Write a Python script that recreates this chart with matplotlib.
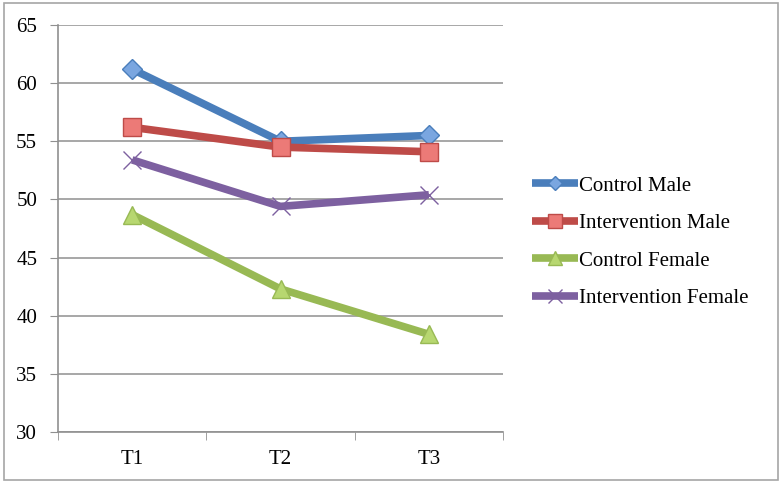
import matplotlib.pyplot as plt
import numpy as np
from matplotlib.patches import Rectangle

# data
times = ['T1', 'T2', 'T3']
control_male = [61.2, 55.0, 55.5]
intervention_male = [56.2, 54.5, 54.1]
control_female = [48.7, 42.3, 38.4]
intervention_female = [53.4, 49.4, 50.4]

plt.rcParams['font.family'] = ['Liberation Serif', 'DejaVu Serif']

fig = plt.figure(figsize=(7.81, 4.90), dpi=100)
ax = fig.add_axes([58 / 781, 1 - 432 / 490, 445 / 781, 407 / 490])

# outer frame of the chart
fig.patches.append(Rectangle((4 / 781, 1 - 480 / 490), 774 / 781, 477 / 490,
                             transform=fig.transFigure, fill=False,
                             edgecolor='#a6a6a6', linewidth=1.2))

x = np.arange(len(times))
series = [
    ('Control Male', control_male, '#4a7ebb', 'D', '#7aa6e0', '#4a7ebb', 10),
    ('Intervention Male', intervention_male, '#be4b48', 's', '#ec7a77', '#be4b48', 13),
    ('Control Female', control_female, '#98b954', '^', '#b7d770', '#98b954', 13),
    ('Intervention Female', intervention_female, '#7d60a0', 'x', '#7d60a0', '#7d60a0', 13),
]
for name, vals, col, mk, mfc, mec, ms in series:
    ax.plot(x, vals, color=col, linewidth=5.5, marker=mk, markersize=ms,
            markerfacecolor=mfc, markeredgecolor=mec, markeredgewidth=1.0,
            label=name, zorder=3, solid_capstyle='butt')

ax.set_xlim(-0.5, 2.5)
ax.set_ylim(30, 65)
ax.set_yticks(np.arange(30, 66, 5))
ax.set_xticks(x)
ax.set_xticklabels(times)
ax.set_xticks([-0.5, 0.5, 1.5, 2.5], minor=True)
ax.tick_params(axis='x', which='major', length=0, pad=13, labelsize=15)
ax.tick_params(axis='x', which='minor', length=6, color='#909090', direction='out')
ax.tick_params(axis='y', length=6, color='#909090', labelsize=15, pad=9)
ax.grid(axis='y', color='#a0a0a0', linewidth=1.3)
ax.set_axisbelow(True)
for s in ['top', 'right']:
    ax.spines[s].set_visible(False)
for s in ['left', 'bottom']:
    ax.spines[s].set_color('#909090')
    ax.spines[s].set_linewidth(1.2)

leg = fig.legend(loc='center left', bbox_to_anchor=(532 / 781, 1 - 242 / 490),
                 frameon=False, fontsize=15, handlelength=2.2, handletextpad=0.05,
                 labelspacing=0.86, markerscale=0.75, borderpad=0, borderaxespad=0)

fig.savefig('out.png', dpi=100)
